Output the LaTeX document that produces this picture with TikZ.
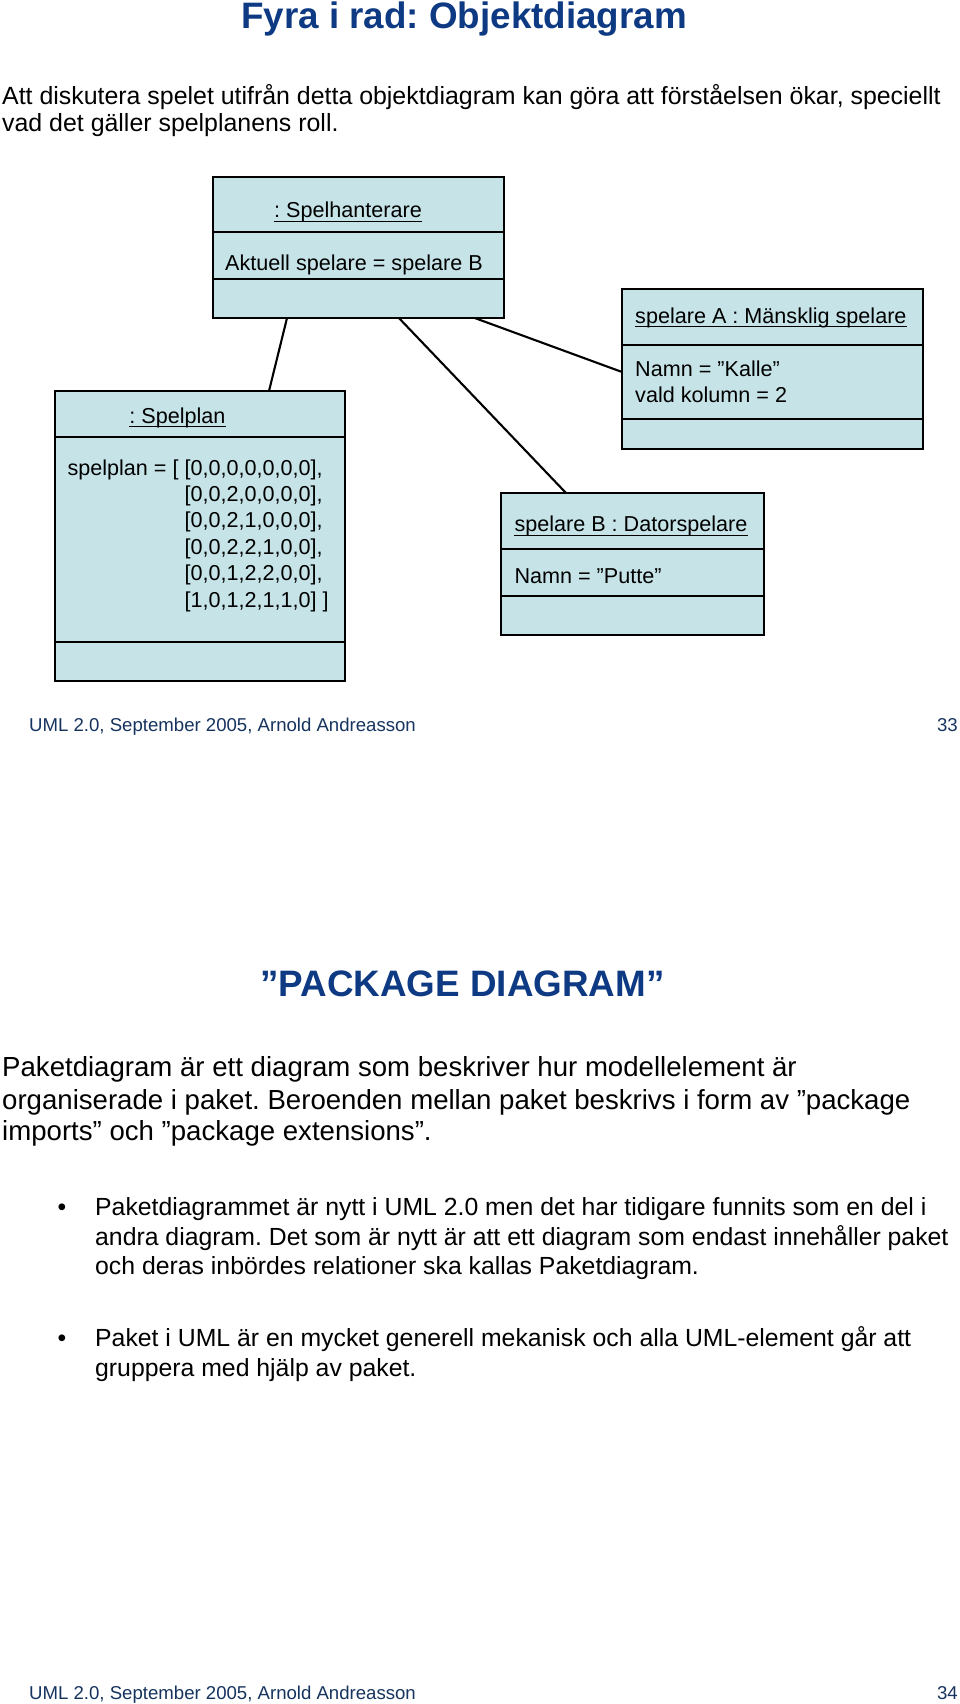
\documentclass[tikz,border=0pt]{standalone}
\usepackage{fontspec}
\setmainfont{Liberation Sans}
\definecolor{boxfill}{RGB}{198,228,232}
\definecolor{titleblue}{RGB}{14,58,132}
\definecolor{footnavy}{RGB}{22,52,94}
\frenchspacing
\begin{document}
\begin{tikzpicture}[x=1pt,y=-1pt,
  objbox/.style={draw=black, line width=2.1pt, fill=boxfill, anchor=north west, inner sep=0pt},
  boxline/.style={draw=black, line width=2.1pt},
  link/.style={draw=black, line width=2.1pt},
  uline/.style={draw=black, line width=1.1pt},
  dtxt/.style={inner sep=0pt, anchor=base west, font=\fontsize{21.6}{26}\selectfont},
  btxt/.style={inner sep=0pt, anchor=base west, font=\fontsize{24.9}{29}\selectfont},
  ptxt/.style={inner sep=0pt, anchor=base west, font=\fontsize{27.6}{32}\selectfont},
  ltxt/.style={inner sep=0pt, anchor=base west, font=\fontsize{24.8}{30}\selectfont},
  ftxt/.style={inner sep=0pt, anchor=base west, text=footnavy, font=\fontsize{18.6}{22}\selectfont},
  head/.style={inner sep=0pt, anchor=base, text=titleblue, font=\bfseries\fontsize{36.8}{42}\selectfont}]
\fill[white] (0,0) rectangle (960,1704);
\useasboundingbox (0,0) rectangle (960,1704);

% title and intro
\node[head] (title) at (464,29) {Fyra i rad: Objektdiagram};
\node[btxt] (intro1) at (2,105) {Att diskutera spelet utifrån detta objektdiagram kan göra att förståelsen ökar, speciellt};
\node[btxt] (intro2) at (2,131.7) {vad det gäller spelplanens roll.};

% boxes
\node[objbox, minimum width=289pt, minimum height=139pt] (SH) at (213,177) {};
\node[objbox, minimum width=288pt, minimum height=288pt] (SP) at (55,391) {};
\node[objbox, minimum width=299pt, minimum height=158pt] (SA) at (622,289) {};
\node[objbox, minimum width=261pt, minimum height=140pt] (SB) at (501,493) {};

% connectors
\draw[link] ([xshift=74pt]SH.south west) -- ([xshift=214pt]SP.north west);
\draw[link] ([xshift=186pt]SH.south west) -- ([xshift=65pt]SB.north west);
\draw[link] ([xshift=262pt]SH.south west) -- ([yshift=-83pt]SA.north west);

% redraw boxes on top
\draw[boxline, fill=boxfill] (SH.north west) rectangle (SH.south east);
\draw[boxline, fill=boxfill] (SP.north west) rectangle (SP.south east);
\draw[boxline, fill=boxfill] (SA.north west) rectangle (SA.south east);
\draw[boxline, fill=boxfill] (SB.north west) rectangle (SB.south east);

% dividers
\draw[boxline] ([yshift=-55pt]SH.north west) -- ([yshift=-55pt]SH.north east);
\draw[boxline] ([yshift=-102pt]SH.north west) -- ([yshift=-102pt]SH.north east);
\draw[boxline] ([yshift=-46pt]SP.north west) -- ([yshift=-46pt]SP.north east);
\draw[boxline] ([yshift=-251pt]SP.north west) -- ([yshift=-251pt]SP.north east);
\draw[boxline] ([yshift=-56pt]SA.north west) -- ([yshift=-56pt]SA.north east);
\draw[boxline] ([yshift=-130pt]SA.north west) -- ([yshift=-130pt]SA.north east);
\draw[boxline] ([yshift=-56pt]SB.north west) -- ([yshift=-56pt]SB.north east);
\draw[boxline] ([yshift=-103pt]SB.north west) -- ([yshift=-103pt]SB.north east);

% Spelhanterare texts
\node[dtxt, anchor=base] (shname) at (348,218) {: Spelhanterare};
\draw[uline] ([yshift=-3.5pt]shname.base west) -- ([yshift=-3.5pt]shname.base east);
\node[dtxt] (shattr) at (225,270) {Aktuell spelare = spelare B};

% Spelplan texts
\node[dtxt, anchor=base] (spname) at (177.5,423) {: Spelplan};
\draw[uline] ([yshift=-3.5pt]spname.base west) -- ([yshift=-3.5pt]spname.base east);
\node[dtxt] (sp0) at (67.3,475) {spelplan = [ [0,0,0,0,0,0,0],};
\node[dtxt] (sp1) at (67.3,501.4) {\hphantom{spelplan = [ }[0,0,2,0,0,0,0],};
\node[dtxt] (sp2) at (67.3,527.8) {\hphantom{spelplan = [ }[0,0,2,1,0,0,0],};
\node[dtxt] (sp3) at (67.3,554.2) {\hphantom{spelplan = [ }[0,0,2,2,1,0,0],};
\node[dtxt] (sp4) at (67.3,580.6) {\hphantom{spelplan = [ }[0,0,1,2,2,0,0],};
\node[dtxt] (sp5) at (67.3,607) {\hphantom{spelplan = [ }[1,0,1,2,1,1,0] ]};

% spelare A texts
\node[dtxt] (saname) at (635,323.3) {spelare A : Mänsklig spelare};
\draw[uline] ([yshift=-3.5pt]saname.base west) -- ([yshift=-3.5pt]saname.base east);
\node[dtxt] (sa1) at (635,376) {Namn = ”Kalle”};
\node[dtxt] (sa2) at (635,402.7) {vald kolumn = 2};

% spelare B texts
\node[dtxt] (sbname) at (514.3,531.7) {spelare B : Datorspelare};
\draw[uline] ([yshift=-3.5pt]sbname.base west) -- ([yshift=-3.5pt]sbname.base east);
\node[dtxt] (sb1) at (514.3,583.3) {Namn = ”Putte”};

% footer 1
\node[ftxt] (foot1) at (29,731) {UML 2.0, September 2005, Arnold Andreasson};
\node[ftxt, anchor=base east] (page1) at (958,731) {33};

% package diagram
\node[head] (pkg) at (462.5,996) {”PACKAGE DIAGRAM”};
\node[ptxt] (p1) at (2,1076.7) {Paketdiagram är ett diagram som beskriver hur modellelement är};
\node[ptxt] (p2) at (2,1109) {organiserade i paket. Beroenden mellan paket beskrivs i form av ”package};
\node[ptxt] (p3) at (2,1140) {imports” och ”package extensions”.};

% bullets
\node[ltxt, anchor=base] (bul1) at (62,1215.7) {•};
\node[ltxt] (b1a) at (95,1215.7) {Paketdiagrammet är nytt i UML 2.0 men det har tidigare funnits som en del i};
\node[ltxt] (b1b) at (95,1245) {andra diagram. Det som är nytt är att ett diagram som endast innehåller paket};
\node[ltxt] (b1c) at (95,1274.5) {och deras inbördes relationer ska kallas Paketdiagram.};
\node[ltxt, anchor=base] (bul2) at (62,1346.7) {•};
\node[ltxt] (b2a) at (95,1346.7) {Paket i UML är en mycket generell mekanisk och alla UML-element går att};
\node[ltxt] (b2b) at (95,1376.7) {gruppera med hjälp av paket.};

% footer 2
\node[ftxt] (foot2) at (29,1699) {UML 2.0, September 2005, Arnold Andreasson};
\node[ftxt, anchor=base east] (page2) at (958,1699) {34};
\end{tikzpicture}
\end{document}
